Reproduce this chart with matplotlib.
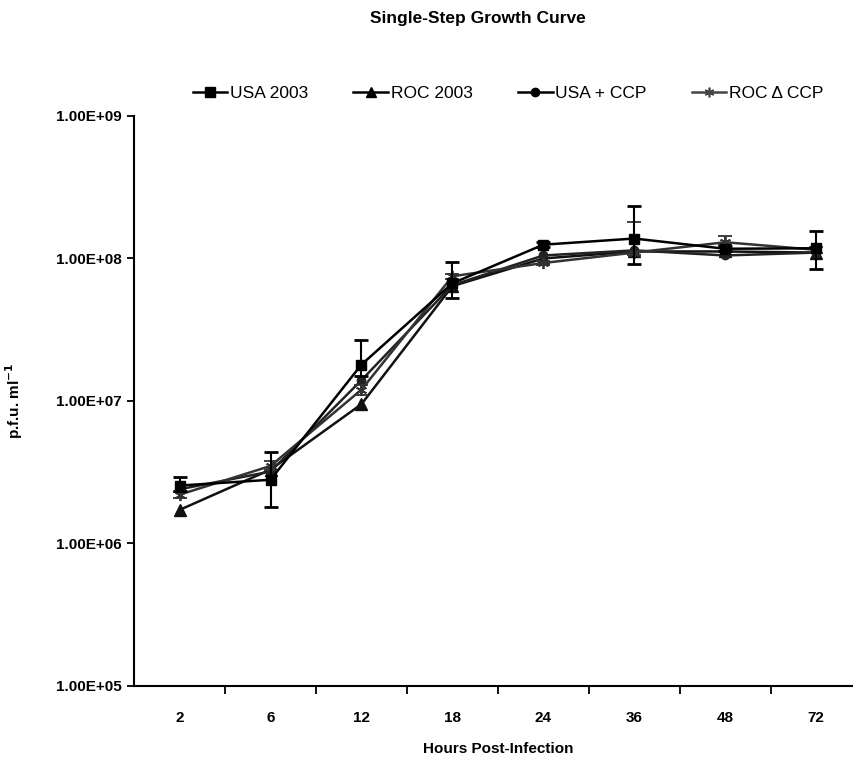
import numpy as np
import matplotlib
matplotlib.use('Agg')
import matplotlib.pyplot as plt
from matplotlib.lines import Line2D
from matplotlib.ticker import FuncFormatter, FixedLocator, LogLocator, NullLocator

# Hours post-infection (categorical axis)
hours = ['2', '6', '12', '18', '24', '36', '48', '72']

# p.f.u. per ml for each strain
usa_2003 = [2.55e6, 2.8e6, 1.8e7, 6.7e7, 1.25e8, 1.38e8, 1.17e8, 1.18e8]
roc_2003 = [1.72e6, 3.3e6, 9.5e6, 6.4e7, 1.0e8, 1.12e8, 1.12e8, 1.1e8]
usa_ccp = [2.4e6, 3.2e6, 1.4e7, 6.5e7, 1.05e8, 1.14e8, 1.05e8, 1.1e8]
roc_d_ccp = [2.2e6, 3.5e6, 1.2e7, 7.5e7, 9.3e7, 1.1e8, 1.3e8, 1.15e8]

# error bars (lower, upper)
usa_2003_lo = [0.2e6, 1.0e6, 0.3e7, 1.4e7, 0.05e8, 0.47e8, 0.05e8, 0.33e8]
usa_2003_hi = [0.4e6, 1.55e6, 0.9e7, 2.7e7, 0.05e8, 0.97e8, 0.05e8, 0.37e8]
roc_d_ccp_lo = [0.1e6, 0.2e6, 0.1e7, 0.3e7, 0.03e8, 0.05e8, 0.05e8, 0.05e8]
roc_d_ccp_hi = [0.1e6, 0.3e6, 0.1e7, 0.3e7, 0.03e8, 0.7e8, 0.13e8, 0.05e8]

plt.rcParams['font.family'] = ['Liberation Sans', 'DejaVu Sans']

fig = plt.figure(figsize=(8.54, 7.58), dpi=100)
ax = fig.add_axes([0.157, 0.095, 0.852, 0.752])

x = np.arange(len(hours))
asterisk = (6, 2, 0)

ax.errorbar(x, usa_2003, yerr=[usa_2003_lo, usa_2003_hi], color='black', lw=1.8,
            marker='s', ms=7, capsize=5, elinewidth=1.5, capthick=2, zorder=4)
ax.plot(x, roc_2003, color='#111111', lw=1.8, marker='^', ms=8, zorder=3)
ax.plot(x, usa_ccp, color='#222222', lw=1.8, marker='o', ms=6, zorder=3)
ax.errorbar(x, roc_d_ccp, yerr=[roc_d_ccp_lo, roc_d_ccp_hi], color='#333333', lw=1.8,
            marker=asterisk, ms=8, mew=1.3, capsize=5, elinewidth=1.2, capthick=2, zorder=3)

ax.set_yscale('log')
ax.set_ylim(1e5, 1e9)
ax.set_xlim(-0.5, len(hours) - 0.5)

ax.yaxis.set_major_locator(LogLocator(base=10, numticks=10))
ax.yaxis.set_minor_locator(NullLocator())
ax.yaxis.set_major_formatter(FuncFormatter(lambda v, p: '%.2fE+%02d' % (1.00, int(round(np.log10(v))))))

ax.set_xticks(x)
ax.set_xticklabels(hours)
ax.xaxis.set_minor_locator(FixedLocator(np.arange(0.5, len(hours) - 0.5, 1.0)))
ax.tick_params(axis='x', which='major', length=0, pad=18)
ax.tick_params(axis='x', which='minor', length=6, width=1.3, direction='out')
ax.tick_params(axis='y', which='major', length=5, width=1.3, direction='out', pad=4)

for lbl in ax.get_xticklabels() + ax.get_yticklabels():
    lbl.set_fontweight('bold')
    lbl.set_fontsize(11)

ax.spines['top'].set_visible(False)
ax.spines['right'].set_visible(False)
ax.spines['left'].set_linewidth(1.5)
ax.spines['bottom'].set_linewidth(1.5)

ax.set_xlabel('Hours Post-Infection', fontsize=11, fontweight='bold', labelpad=12)
ax.set_ylabel('p.f.u. ml$^{\\mathbf{-1}}$', fontsize=11, fontweight='bold', labelpad=22)

fig.text(0.56, 0.975, 'Single-Step Growth Curve', ha='center', va='center',
         fontsize=12.5, fontweight='bold')

handles = [
    Line2D([], [], color='black', lw=1.8, marker='s', ms=7),
    Line2D([], [], color='black', lw=1.8, marker='^', ms=7),
    Line2D([], [], color='black', lw=1.8, marker='o', ms=6),
    Line2D([], [], color='#444444', lw=1.8, marker=asterisk, ms=7, mew=1.2),
]
labels = ['USA 2003', 'ROC 2003', 'USA + CCP', 'ROC \u0394 CCP']
ax.legend(handles, labels, loc='center', bbox_to_anchor=(0.514, 1.04), ncol=4, frameon=False,
          fontsize=12.5, handlelength=2.0, handletextpad=0.15, columnspacing=2.6)

plt.savefig('out.png', dpi=100)
